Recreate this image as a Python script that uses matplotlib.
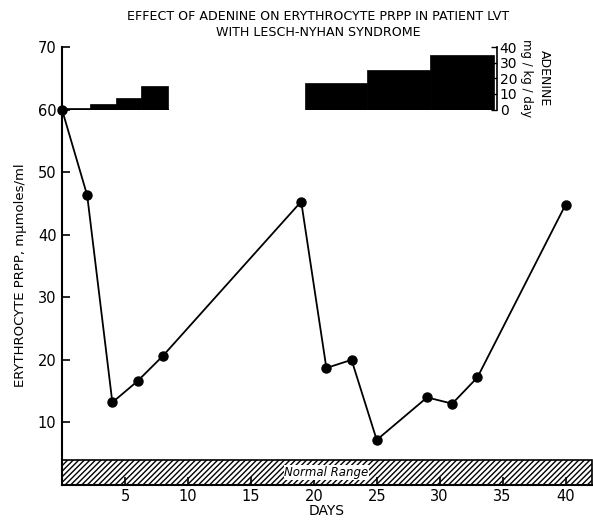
import numpy as np
import matplotlib
matplotlib.use("Agg")
import matplotlib.pyplot as plt
from matplotlib.patches import Rectangle

# PRPP measurements
days = [0, 2, 4, 6, 8, 19, 21, 23, 25, 29, 31, 33, 40]
prpp = [60, 46.3, 13.2, 16.6, 20.6, 45.3, 18.7, 20.0, 7.2, 14.0, 13.0, 17.2, 44.8]

# adenine dosing steps (start day, end day, mg/kg/day)
dose_start = [0, 2.2, 4.3, 6.3, 19.3, 24.2, 29.2]
dose_end = [2.2, 4.3, 6.3, 8.4, 24.2, 29.2, 34.3]
dose = [1.0, 3.5, 7.5, 15.0, 17.0, 25.5, 35.0]

normal_range = (0, 4)
xticks = [5, 10, 15, 20, 25, 30, 35, 40]
yticks = [10, 20, 30, 40, 50, 60, 70]
adenine_ticks = [0, 10, 20, 30, 40]

plt.rcParams['font.family'] = 'DejaVu Sans'

fig = plt.figure(figsize=(5.93, 5.21), dpi=100)
x0, x1 = 62 / 593, 592 / 593
y0, y1 = 1 - 485 / 521, 1 - 47 / 521
ax = fig.add_axes([x0, y0, x1 - x0, y1 - y0])
xmax = 42.1
ax.set_xlim(0, xmax)
ax.set_ylim(0, 70)

# normal range band
ax.add_patch(Rectangle((0, normal_range[0]), xmax, normal_range[1] - normal_range[0],
                       facecolor='white', edgecolor='black', hatch='//////', lw=1.2, clip_on=False))
ax.text(21.0, 2.0, 'Normal Range', ha='center', va='center', fontsize=8.5, style='italic',
        bbox=dict(facecolor='white', edgecolor='none', pad=0.5))

ax.plot(days, prpp, color='black', lw=1.3, marker='o', ms=6.5, clip_on=False, zorder=5)

for s in ['top', 'right']:
    ax.spines[s].set_visible(False)
for s in ['left', 'bottom']:
    ax.spines[s].set_linewidth(1.5)
ax.set_xticks(xticks)
ax.set_yticks(yticks)
ax.tick_params(direction='in', length=6, width=1.2, labelsize=10.5, pad=4)
ax.tick_params(axis='x', pad=3)
ax.set_xlabel('DAYS', fontsize=10, labelpad=0)
ax.set_ylabel('ERYTHROCYTE PRPP, m\u03bcmoles/ml', fontsize=9.5, labelpad=3)
ax.yaxis.set_label_coords(-0.066, 0.48)

fig.text(0.536, 0.969, 'EFFECT OF ADENINE ON ERYTHROCYTE PRPP IN PATIENT LVT',
         ha='center', va='center', fontsize=9.1)
fig.text(0.536, 0.937, 'WITH LESCH-NYHAN SYNDROME', ha='center', va='center', fontsize=9.1)

# adenine dose axis, spanning PRPP 60..70
a_bot = y0 + (y1 - y0) * 60 / 70
ax2 = fig.add_axes([x0, a_bot, x1 - x0, y1 - a_bot])
ax2.patch.set_visible(False)
ax2.set_xlim(0, xmax)
ax2.set_ylim(0, 40)
ax2.bar(dose_start, dose, width=np.array(dose_end) - np.array(dose_start),
        align='edge', color='black', edgecolor='black', lw=0.5)
ax2.plot([0, dose_end[3]], [0, 0], color='black', lw=1.5)
for s in ['top', 'left', 'bottom']:
    ax2.spines[s].set_visible(False)
ax2.spines['right'].set_position(('data', 34.55))
ax2.spines['right'].set_bounds(0, 40)
ax2.spines['right'].set_linewidth(1.2)
ax2.set_xticks([])
ax2.yaxis.tick_right()
ax2.set_yticks(adenine_ticks)
ax2.tick_params(axis='y', direction='in', length=4, width=1.0, labelsize=10, pad=2)
ax2.text(36.9, 20, 'mg / kg / day', rotation=-90, ha='center', va='center', fontsize=8.5)
ax2.text(38.3, 20, 'ADENINE', rotation=-90, ha='center', va='center', fontsize=9)

fig.savefig('out.png', dpi=100)
